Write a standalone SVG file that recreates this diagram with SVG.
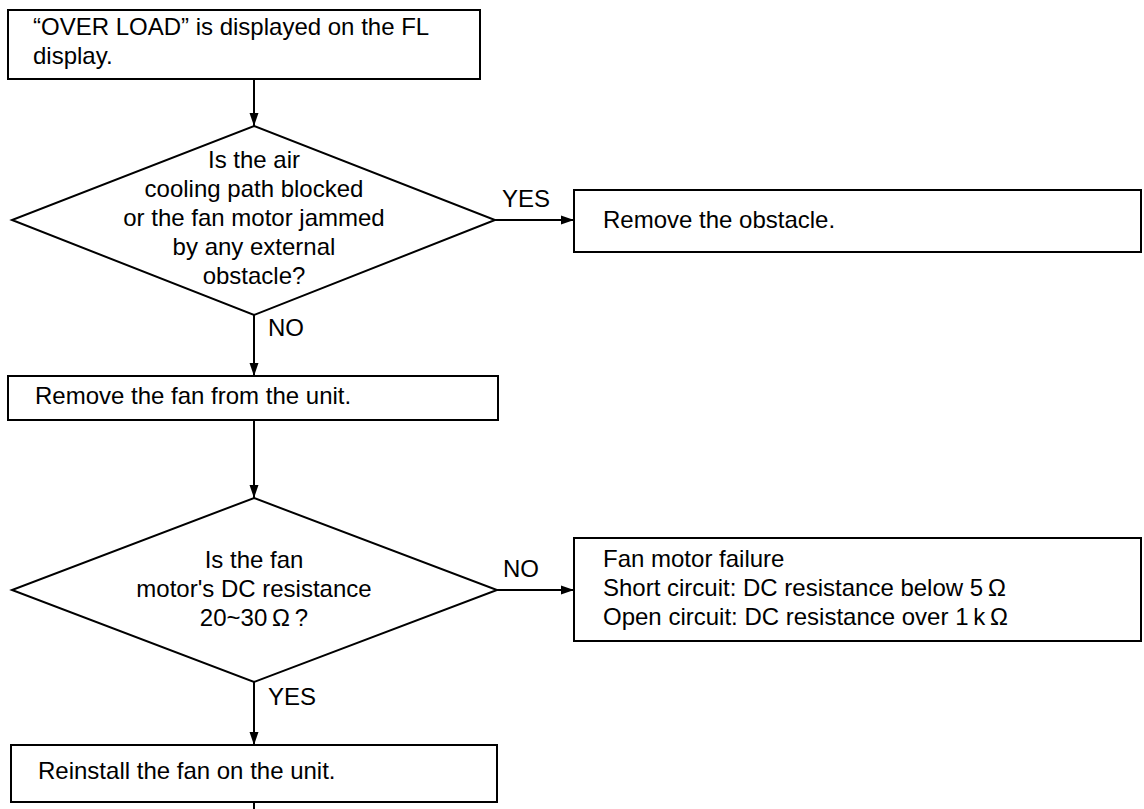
<svg xmlns="http://www.w3.org/2000/svg" width="1144" height="809" viewBox="0 0 1144 809">
<style>
.box{fill:#fff;stroke:#000;stroke-width:2}
.dia{fill:#fff;stroke:#000;stroke-width:2;stroke-linejoin:miter}
.t{font-family:"Liberation Sans",Arial,Helvetica,sans-serif;font-size:24px;fill:#000}
.c{text-anchor:middle}
.ln{fill:none;stroke:#000;stroke-width:2}
</style>
<defs>
<marker id="ah" markerWidth="13" markerHeight="10" refX="13" refY="5" orient="auto" markerUnits="userSpaceOnUse">
<path d="M0,0.5 L13,5 L0,9.5 Z" fill="#000"/>
</marker>
</defs>
<rect width="1144" height="809" fill="#fff"/>
<g id="connectors">
<line class="ln" x1="254" y1="79" x2="254" y2="126" marker-end="url(#ah)"/>
<line class="ln" x1="495" y1="220" x2="574" y2="220" marker-end="url(#ah)"/>
<line class="ln" x1="254" y1="315" x2="254" y2="376" marker-end="url(#ah)"/>
<line class="ln" x1="254" y1="420" x2="254" y2="498" marker-end="url(#ah)"/>
<line class="ln" x1="497" y1="590" x2="574" y2="590" marker-end="url(#ah)"/>
<line class="ln" x1="254" y1="682" x2="254" y2="745" marker-end="url(#ah)"/>
<line class="ln" x1="254" y1="802" x2="254" y2="809"/>
<text class="t" x="502" y="207">YES</text>
<text class="t" x="268" y="336">NO</text>
<text class="t" x="503" y="577">NO</text>
<text class="t" x="268" y="705">YES</text>
</g>
<g id="start">
<rect class="box" x="8" y="10" width="472" height="69"/>
<text class="t" x="33" y="35">“OVER LOAD” is displayed on the FL</text>
<text class="t" x="33" y="64">display.</text>
</g>
<g id="q1">
<polygon class="dia" points="254,126 495,220 254,315 12,220"/>
<text class="t c" x="254" y="168">Is the air</text>
<text class="t c" x="254" y="197">cooling path blocked</text>
<text class="t c" x="254" y="226">or the fan motor jammed</text>
<text class="t c" x="254" y="255">by any external</text>
<text class="t c" x="254" y="284">obstacle?</text>
</g>
<g id="remove-obstacle">
<rect class="box" x="574" y="190" width="567" height="62"/>
<text class="t" x="603" y="228">Remove the obstacle.</text>
</g>
<g id="remove-fan">
<rect class="box" x="8" y="376" width="490" height="44"/>
<text class="t" x="35" y="404">Remove the fan from the unit.</text>
</g>
<g id="q2">
<polygon class="dia" points="254,498 497,590 254,682 12,590"/>
<text class="t c" x="254" y="568">Is the fan</text>
<text class="t c" x="254" y="597">motor's DC resistance</text>
<text class="t c" x="254" y="626">20~30&#8201;Ω&#8201;?</text>
</g>
<g id="failure">
<rect class="box" x="574" y="538" width="567" height="103"/>
<text class="t" x="603" y="567">Fan motor failure</text>
<text class="t" x="603" y="596">Short circuit: DC resistance below 5&#8201;Ω</text>
<text class="t" x="603" y="625">Open circuit: DC resistance over 1&#8201;k&#8201;Ω</text>
</g>
<g id="reinstall">
<rect class="box" x="11" y="745" width="486" height="57"/>
<text class="t" x="38" y="779">Reinstall the fan on the unit.</text>
</g>
</svg>
